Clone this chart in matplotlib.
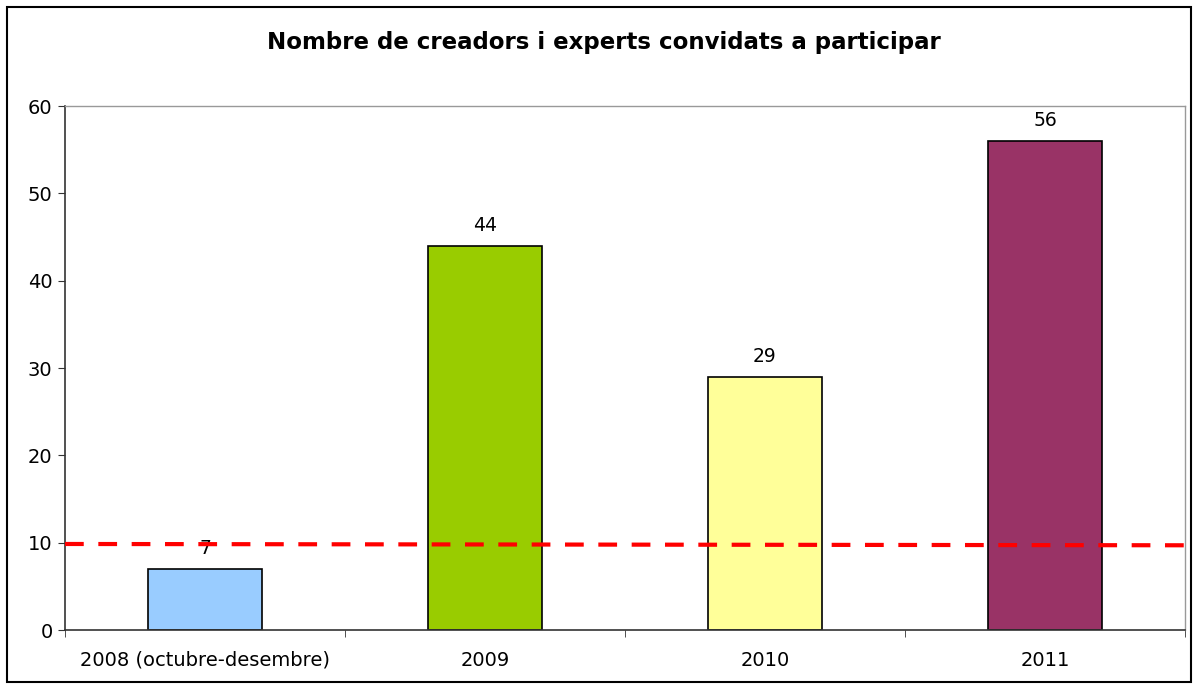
import matplotlib
matplotlib.use("Agg")
import matplotlib.pyplot as plt
from matplotlib.patches import Rectangle

categories = ["2008 (octubre-desembre)", "2009", "2010", "2011"]
values = [7, 44, 29, 56]
colors = ["#99CCFF", "#99CC00", "#FFFF99", "#993366"]
ref_line = [9.85, 9.7]
title = "Nombre de creadors i experts convidats a participar"

fig = plt.figure(figsize=(11.98, 6.89), dpi=100)
ax = fig.add_axes([65/1198, 1 - 630/689, (1185-65)/1198, (630-106)/689])

x = list(range(len(categories)))
bars = ax.bar(x, values, width=0.41, color=colors, edgecolor="black", linewidth=1.2, zorder=2)
for xi, v in zip(x, values):
    ax.text(xi, v + 1.2, str(v), ha="center", va="bottom", fontsize=13.5, color="black", zorder=1)

ax.plot([-0.5, len(categories) - 0.5], ref_line, color="#FF0000", linewidth=3.0,
        linestyle=(0, (4.5, 3.5)), zorder=3, clip_on=False, solid_capstyle="butt",
        dash_capstyle="butt")

ax.set_xlim(-0.5, len(categories) - 0.5)
ax.set_ylim(0, 60)
ax.set_yticks(range(0, 61, 10))
ax.set_xticks(x)
ax.set_xticklabels(categories)
ax.set_xticks([i - 0.5 for i in range(len(categories) + 1)], minor=True)
ax.tick_params(axis="x", which="major", length=0, pad=15, labelsize=14)
ax.tick_params(axis="x", which="minor", length=5, direction="out", color="#333333")
ax.tick_params(axis="y", length=5, direction="out", labelsize=14, pad=4, color="#333333")

for s in ["top", "right"]:
    ax.spines[s].set_color("#999999")
    ax.spines[s].set_linewidth(1.0)
for s in ["left", "bottom"]:
    ax.spines[s].set_color("#333333")
    ax.spines[s].set_linewidth(1.2)

fig.text(604/1198, 1 - 43/689, title, ha="center", va="center", fontsize=16.5, fontweight="bold")

fig.patches.append(Rectangle((7/1198, 7/689), (1191-7)/1198, (682-7)/689, transform=fig.transFigure,
                             fill=False, edgecolor="black", linewidth=1.5))

fig.savefig("out.png", dpi=100)
